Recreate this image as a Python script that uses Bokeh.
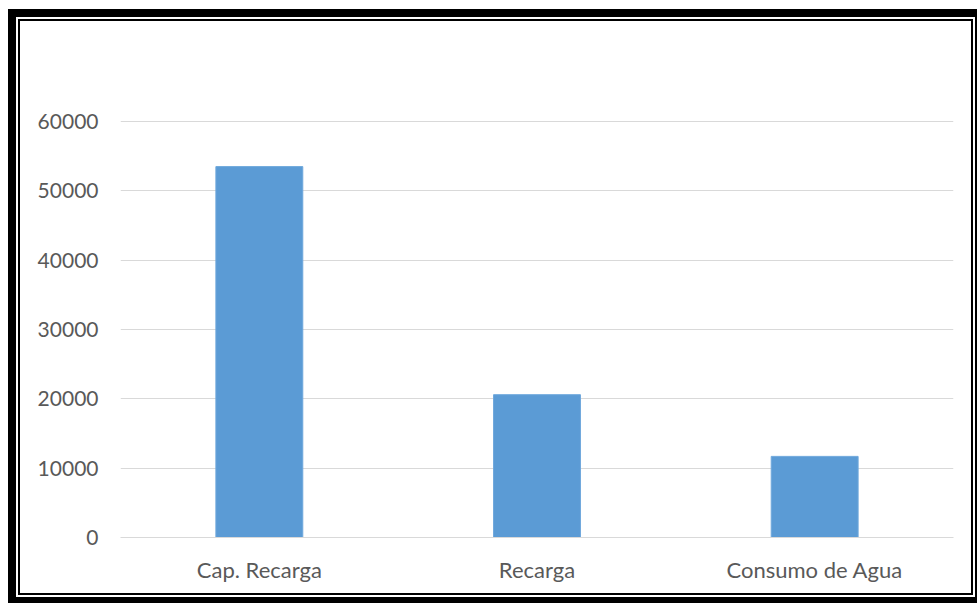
from bokeh.plotting import figure
from bokeh.models import FixedTicker, BasicTickFormatter
from bokeh.embed import file_html
from bokeh.resources import INLINE

categories = ["Cap. Recarga", "Recarga", "Consumo de Agua"]
values = [53500, 20600, 11700]
y_ticks = [0, 10000, 20000, 30000, 40000, 50000, 60000]

p = figure(x_range=categories, y_range=(0, 60150),
           width=955, height=576, output_backend="svg", toolbar_location=None,
           min_border_left=100, min_border_right=22, min_border_top=99, min_border_bottom=60)
p.margin = (19, 0, 0, 18)
p.styles = {"border": "2px solid black", "outline": "8px solid black",
            "outline-offset": "2px"}

p.vbar(x=categories, top=values, width=0.313, fill_color="#5B9BD5", line_color="#6FA8DC", line_width=1)

p.outline_line_color = None
p.xgrid.grid_line_color = None
p.ygrid.grid_line_color = "#D9D9D9"
p.ygrid.grid_line_width = 1

p.yaxis.ticker = FixedTicker(ticks=y_ticks)
p.yaxis.formatter = BasicTickFormatter(use_scientific=False)
p.yaxis.axis_line_color = None
p.yaxis.major_tick_line_color = None
p.yaxis.minor_tick_line_color = None
p.yaxis.major_label_standoff = 16

p.xaxis.axis_line_color = "#D9D9D9"
p.xaxis.major_tick_line_color = None
p.xaxis.minor_tick_line_color = None
p.xaxis.major_label_standoff = 12

p.yaxis.major_label_text_font_size = "21px"
p.xaxis.major_label_text_font_size = "22px"
for ax in (p.xaxis, p.yaxis):
    ax.major_label_text_font = "Lato"
    ax.major_label_text_color = "#595959"

open("out.html", "w").write(file_html(p, INLINE))
